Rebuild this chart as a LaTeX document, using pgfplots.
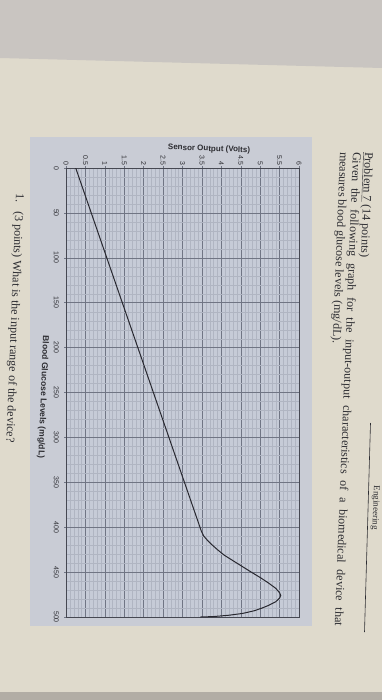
\documentclass[border=0pt]{standalone}
\usepackage{fontspec}
\setmainfont{Liberation Serif}
\setsansfont{Liberation Sans}
\usepackage{pgfplots}
\pgfplotsset{compat=1.18}
\usepackage{pgfplotstable}
\definecolor{pagebg}{RGB}{223,218,204}
\definecolor{shadowbg}{RGB}{201,197,193}
\definecolor{bottomstrip}{RGB}{178,173,165}
\definecolor{panelbg}{RGB}{201,204,213}
\definecolor{plotbg}{RGB}{198,203,215}
\definecolor{gridmajor}{RGB}{112,117,132}
\definecolor{gridminor}{RGB}{176,181,194}
\definecolor{framecol}{RGB}{70,72,82}
\definecolor{curvecol}{RGB}{40,40,48}
\definecolor{textcol}{RGB}{45,45,50}
\pgfplotstableread{
glucose sensor
0 0.25
100 1.05
200 1.85
300 2.65
390 3.37
395 3.41
400 3.45
405 3.49
410 3.55
415 3.65
420 3.77
425 3.90
431 4.07
440 4.40
450 4.77
456 5.00
462 5.21
468 5.40
473 5.50
476 5.53
479 5.50
483 5.40
487 5.22
490 5.05
493 4.85
496 4.55
498 4.20
499.5 3.80
500 3.46
}\curve
\begin{document}
\begin{tikzpicture}
\path[use as bounding box] (0pt,0pt) rectangle (382pt,-700pt);
\clip (0pt,0pt) rectangle (382pt,-700pt);
\fill[pagebg] (0pt,0pt) rectangle (382pt,-700pt);
\fill[shadowbg] (0pt,0pt) -- (382pt,0pt) -- (382pt,-68pt) -- (0pt,-58pt) -- cycle;
\fill[bottomstrip] (0pt,-692pt) rectangle (382pt,-700pt);
\fill[panelbg] (30pt,-137pt) rectangle (312pt,-626pt);
\begin{axis}[at={(182.5pt,-392.5pt)}, anchor=center, scale only axis,
  width=233pt, height=449pt,
  xmin=0, xmax=6, ymin=0, ymax=500, y dir=reverse,
  xtick={0,0.5,...,6}, ytick={0,50,...,500},
  minor x tick num=4, minor y tick num=4,
  grid=both,
  major grid style={gridmajor, line width=0.45pt},
  minor grid style={gridminor, line width=0.25pt},
  axis background/.style={fill=plotbg},
  axis line style={framecol, line width=0.7pt},
  tick align=outside, major tick length=2pt, minor tick length=0pt,
  tick style={gridmajor, line width=0.45pt},
  xticklabel pos=upper, xtick pos=upper, ytick pos=left,
  /pgf/number format/assume math mode=true,
  ticklabel style={font=\sffamily\fontsize{7}{8}\selectfont, text=textcol},
  xticklabel style={rotate=-90, anchor=east, inner sep=0.5pt},
  yticklabel style={rotate=-90, anchor=north, inner sep=1pt},
  yticklabel shift={4pt},
]
\addplot[curvecol, line width=1pt] table[x=sensor, y=glucose] {\curve};
\end{axis}
\node[rotate=-2.2, font=\sffamily\bfseries\fontsize{8}{9}\selectfont, text=textcol, inner sep=0] at (209pt,-149pt) {Sensor Output (Volts)};
\node[rotate=-92.2, font=\sffamily\bfseries\fontsize{8.5}{10}\selectfont, text=textcol, inner sep=0] at (43pt,-397pt) {Blood Glucose Levels (mg/dL)};
\node[rotate=-92.2, anchor=west, inner sep=0, font=\fontsize{12}{14}\selectfont, text=textcol] at (368pt,-152pt) {\underline{Problem 7} (14 points)};
\node[rotate=-92.2, anchor=west, inner sep=0, font=\fontsize{12}{14}\selectfont, text=textcol] at (356pt,-152pt) {\makebox[474pt][s]{Given the following graph for the input-output characteristics of a biomedical device that}};
\node[rotate=-92.2, anchor=west, inner sep=0, font=\fontsize{12}{14}\selectfont, text=textcol] at (343pt,-152pt) {measures blood glucose levels (mg/dL).};
\node[rotate=-92.2, anchor=west, inner sep=0, font=\fontsize{12}{14}\selectfont, text=textcol] at (19pt,-193pt) {1.\hspace{9pt}(3 points) What is the input range of the device?};
\node[rotate=-92.2, anchor=east, inner sep=0, font=\fontsize{9}{11}\selectfont, text=textcol] at (374.5pt,-530pt) {Engineering};
\draw[textcol, line width=0.6pt] (370.5pt,-423pt) -- (364.5pt,-632pt);
\end{tikzpicture}
\end{document}
